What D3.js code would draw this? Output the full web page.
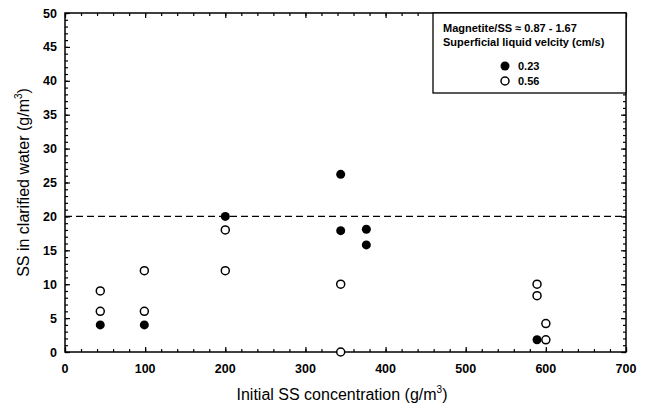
<!DOCTYPE html>
<html>
<head>
<meta charset="utf-8">
<script src="https://cdn.jsdelivr.net/npm/d3@7"></script>
<style>
  body { margin: 0; background: #fff; }
  text { font-family: "Liberation Sans", Arial, sans-serif; fill: #000; }
</style>
</head>
<body>
<script>
// series: superficial liquid velocity 0.23 cm/s (filled)
var filledX = [44, 99, 200, 344, 344, 376, 376, 589];
var filledY = [4, 4, 20, 26.2, 17.9, 18.1, 15.8, 1.8];
// series: superficial liquid velocity 0.56 cm/s (open)
var openX = [44, 44, 99, 99, 200, 200, 344, 344, 589, 589, 600, 600];
var openY = [6, 9, 6, 12, 18, 12, 10, 0, 10, 8.3, 4.2, 1.8];

var xTicks = [0, 100, 200, 300, 400, 500, 600, 700];
var yTicks = [0, 5, 10, 15, 20, 25, 30, 35, 40, 45, 50];
var limitLine = 20;
var legendTitle = ["Magnetite/SS \u2248 0.87 - 1.67", "Superficial liquid velcity (cm/s)"];
var legendLabels = ["0.23", "0.56"];

var W = 647, H = 407;
// plot area edges (named to avoid window.top)
var pLeft = 65, pRight = 626, pTop = 13, pBottom = 352;

var svg = d3.select("body").append("svg").attr("width", W).attr("height", H);

var x = d3.scaleLinear().domain([0, 700]).range([pLeft, pRight]);
var y = d3.scaleLinear().domain([0, 50]).range([pBottom, pTop]);

// minor ticks
var xMinor = d3.range(0, 701, 20);
var yMinor = d3.range(0, 51, 1);

function tickGroup(axis, len) {
    return function(g) {
        g.call(axis.tickSize(len).tickFormat(""));
        g.select(".domain").remove();
        g.selectAll("line").attr("stroke", "#000").attr("stroke-width", 1.2);
    };
}

svg.append("g").attr("transform", "translate(0," + pBottom + ")")
    .call(tickGroup(d3.axisTop(x).tickValues(xMinor), 3));
svg.append("g").attr("transform", "translate(0," + pBottom + ")")
    .call(tickGroup(d3.axisTop(x).tickValues(xTicks), 5));
svg.append("g").attr("transform", "translate(0," + pTop + ")")
    .call(tickGroup(d3.axisBottom(x).tickValues(xMinor), 3));
svg.append("g").attr("transform", "translate(0," + pTop + ")")
    .call(tickGroup(d3.axisBottom(x).tickValues(xTicks), 5));
svg.append("g").attr("transform", "translate(" + pLeft + ",0)")
    .call(tickGroup(d3.axisRight(y).tickValues(yMinor), 3));
svg.append("g").attr("transform", "translate(" + pLeft + ",0)")
    .call(tickGroup(d3.axisRight(y).tickValues(yTicks), 5));
svg.append("g").attr("transform", "translate(" + pRight + ",0)")
    .call(tickGroup(d3.axisLeft(y).tickValues(yMinor), 3));
svg.append("g").attr("transform", "translate(" + pRight + ",0)")
    .call(tickGroup(d3.axisLeft(y).tickValues(yTicks), 5));

// tick labels
svg.selectAll(".xl").data(xTicks).enter().append("text")
    .attr("x", function(d) { return x(d); })
    .attr("y", 373)
    .attr("text-anchor", "middle")
    .style("font-size", "12.5px").style("font-weight", "bold")
    .text(function(d) { return d; });
svg.selectAll(".yl").data(yTicks).enter().append("text")
    .attr("x", 57)
    .attr("y", function(d) { return y(d) + 4.5; })
    .attr("text-anchor", "end")
    .style("font-size", "12.5px").style("font-weight", "bold")
    .text(function(d) { return d; });

// axis titles
var xt = svg.append("text").attr("x", 342).attr("y", 400).attr("text-anchor", "middle")
    .style("font-size", "16px");
xt.append("tspan").text("Initial SS concentration (g/m");
xt.append("tspan").attr("dy", -7).style("font-size", "10px").text("3");
xt.append("tspan").attr("dy", 7).text(")");

var yt = svg.append("text").attr("transform", "translate(29," + ((pTop + pBottom) / 2) + ") rotate(-90)")
    .attr("text-anchor", "middle").style("font-size", "16px");
yt.append("tspan").text("SS in clarified water (g/m");
yt.append("tspan").attr("dy", -7).style("font-size", "10px").text("3");
yt.append("tspan").attr("dy", 7).text(")");

// frame
svg.append("rect").attr("x", pLeft).attr("y", pTop)
    .attr("width", pRight - pLeft).attr("height", pBottom - pTop)
    .attr("fill", "none").attr("stroke", "#000").attr("stroke-width", 1.5);

// dashed limit line
svg.append("line")
    .attr("x1", pLeft).attr("x2", pRight)
    .attr("y1", y(limitLine)).attr("y2", y(limitLine))
    .attr("stroke", "#000").attr("stroke-width", 1.3)
    .attr("stroke-dasharray", "7,4");

// points
var filled = filledX.map(function(v, i) { return [v, filledY[i]]; });
var open = openX.map(function(v, i) { return [v, openY[i]]; });

svg.selectAll(".op").data(open).enter().append("circle")
    .attr("cx", function(d) { return x(d[0]); })
    .attr("cy", function(d) { return y(d[1]); })
    .attr("r", 4)
    .attr("fill", "#fff").attr("stroke", "#000").attr("stroke-width", 1.5);
svg.selectAll(".fp").data(filled).enter().append("circle")
    .attr("cx", function(d) { return x(d[0]); })
    .attr("cy", function(d) { return y(d[1]); })
    .attr("r", 4.5)
    .attr("fill", "#000");

// legend
var lx = 433, ly = pTop, lw = pRight - 433, lh = 93 - pTop;
svg.append("rect").attr("x", lx).attr("y", ly).attr("width", lw).attr("height", lh)
    .attr("fill", "#fff").attr("stroke", "#000").attr("stroke-width", 1.3);
svg.selectAll(".lt").data(legendTitle).enter().append("text")
    .attr("x", 443).attr("y", function(d, i) { return 32 + i * 14; })
    .style("font-size", "11px").style("font-weight", "bold")
    .text(function(d) { return d; });
svg.append("circle").attr("cx", 505).attr("cy", 66).attr("r", 4.5).attr("fill", "#000");
svg.append("circle").attr("cx", 505).attr("cy", 81).attr("r", 4)
    .attr("fill", "#fff").attr("stroke", "#000").attr("stroke-width", 1.5);
svg.selectAll(".ll").data(legendLabels).enter().append("text")
    .attr("x", 518).attr("y", function(d, i) { return 70 + i * 15; })
    .style("font-size", "11px").style("font-weight", "bold")
    .text(function(d) { return d; });
</script>
</body>
</html>
